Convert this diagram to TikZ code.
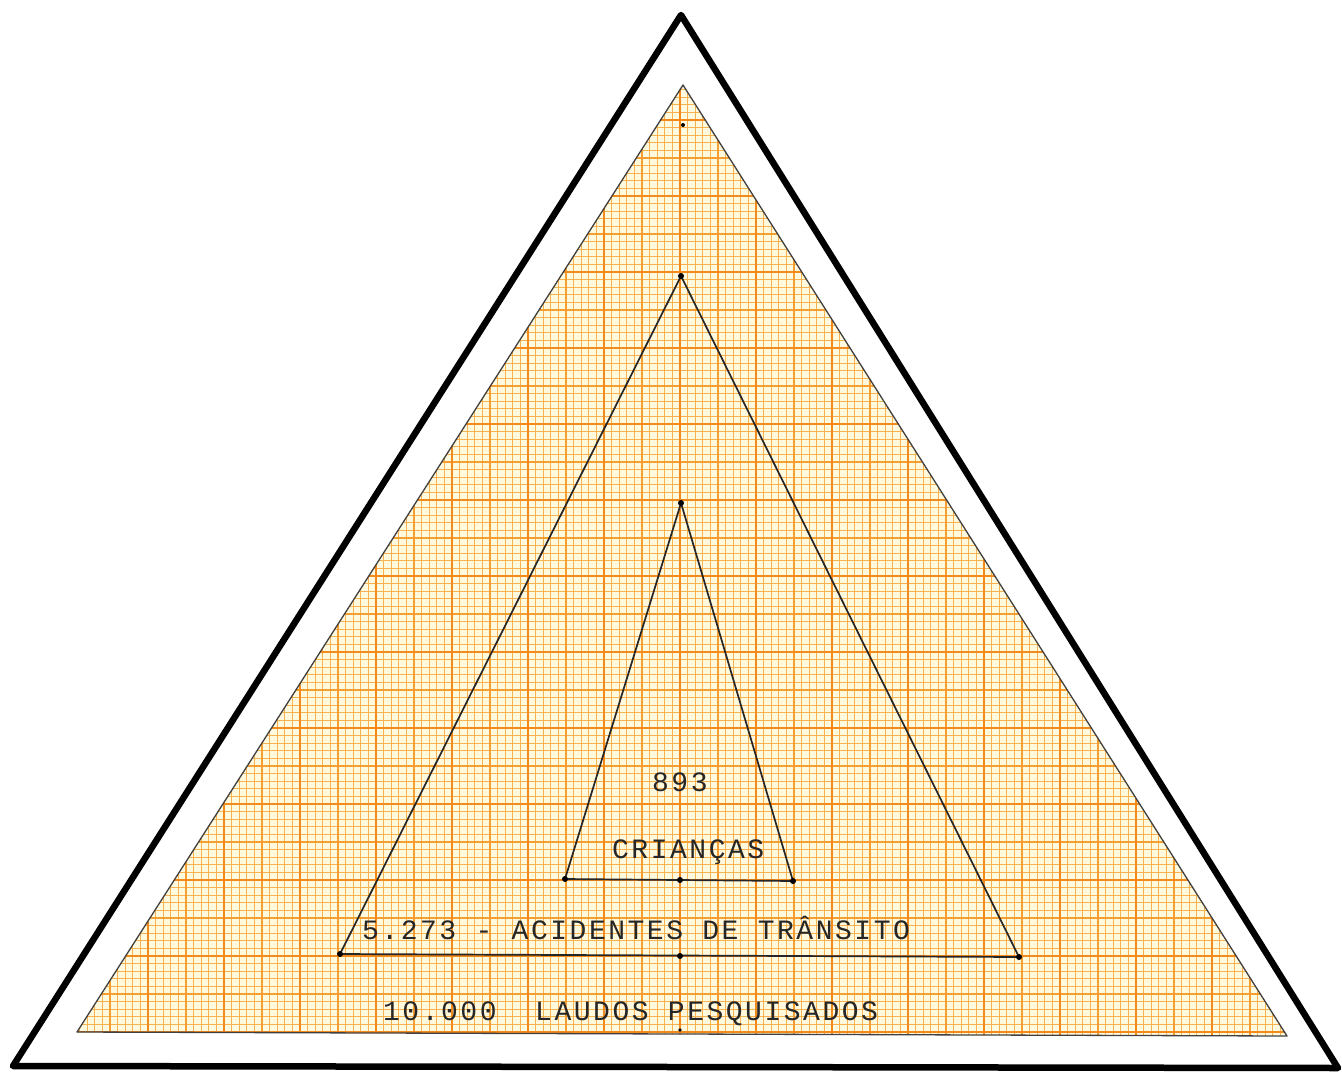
\documentclass[tikz,border=0pt]{standalone}
\usepackage{fontspec}
\newfontfamily\plotfont[LetterSpace=9]{Liberation Mono}
\definecolor{paper}{RGB}{255,249,222}
\definecolor{gminor}{RGB}{247,178,82}
\definecolor{gmid}{RGB}{245,158,50}
\definecolor{gmajor}{RGB}{242,138,28}
\begin{document}
\begin{tikzpicture}[x=1pt,y=-1pt,
  outer/.style={line width=6.5pt,line join=round,line cap=round,black},
  inner/.style={line width=1.7pt,line join=round,black!85},
  vdot/.style={fill=black},
  label/.style={font=\plotfont\fontsize{28}{30}\selectfont,inner sep=0pt,text=black!85}]
\useasboundingbox (0,0) rectangle (1342,1074);
% vertices
\coordinate (oA) at (681,15);
\coordinate (oL) at (13,1066);
\coordinate (oR) at (1338,1068);
\coordinate (gA) at (683,85);
\coordinate (gL) at (77,1032);
\coordinate (gR) at (1287,1036);
\coordinate (mA) at (681,276);
\coordinate (mL) at (340,954);
\coordinate (mR) at (1019,957);
\coordinate (mM) at (680,956);
\coordinate (iA) at (681,503);
\coordinate (iL) at (565,879);
\coordinate (iR) at (793,881);
\coordinate (iM) at (680,880);
% graph paper
\fill[paper] (gA)--(gL)--(gR)--cycle;
\begin{scope}
  \clip (gA)--(gL)--(gR)--cycle;
  \foreach \i in {-80,...,80} \draw[gminor,line width=1.3pt] ({680+7.6*\i},80) -- ({680+7.6*\i},1040);
  \foreach \j in {-55,...,72} \draw[gminor,line width=1.3pt] (70,{500+7.6*\j}) -- (1295,{500+7.6*\j});
  \foreach \i in {-80,-75,...,80} \draw[gmid,line width=1.7pt] ({680+7.6*\i},80) -- ({680+7.6*\i},1040);
  \foreach \j in {-55,-50,...,72} \draw[gmid,line width=1.7pt] (70,{500+7.6*\j}) -- (1295,{500+7.6*\j});
  \foreach \i in {-80,-70,...,80} \draw[gmajor,line width=2.2pt] ({680+7.6*\i},80) -- ({680+7.6*\i},1040);
  \foreach \j in {-50,-40,...,72} \draw[gmajor,line width=2.2pt] (70,{500+7.6*\j}) -- (1295,{500+7.6*\j});
\end{scope}
\draw[line width=1.3pt,black!75,line join=round] (gA)--(gL)--(gR)--cycle;
% outer triangle
\draw[outer] (oA)--(oL)--(oR)--cycle;
% middle and inner triangles
\draw[inner] (mA)--(mL)--(mR)--cycle;
\draw[inner] (iA)--(iL)--(iR)--cycle;
\foreach \p in {mA,mL,mR,mM,iA,iL,iR,iM} \fill[vdot] (\p) circle[radius=3pt];
\coordinate (tick1) at (683,125);
\coordinate (tick2) at (680,1030);
\fill (tick1) circle[radius=2pt];
\fill (tick2) circle[radius=1.8pt];
% labels
\node[label,anchor=base west] (n893) at (652,791) {893};
\node[label,anchor=base west] (ncri) at (612,858) {CRIANÇAS};
\node[label,anchor=base west] (nacid) at (362,939) {5.273 - ACIDENTES DE TRÂNSITO};
\node[label,anchor=base west] (nlaud) at (383,1020) {10.000\ \ LAUDOS PESQUISADOS};
\end{tikzpicture}
\end{document}
